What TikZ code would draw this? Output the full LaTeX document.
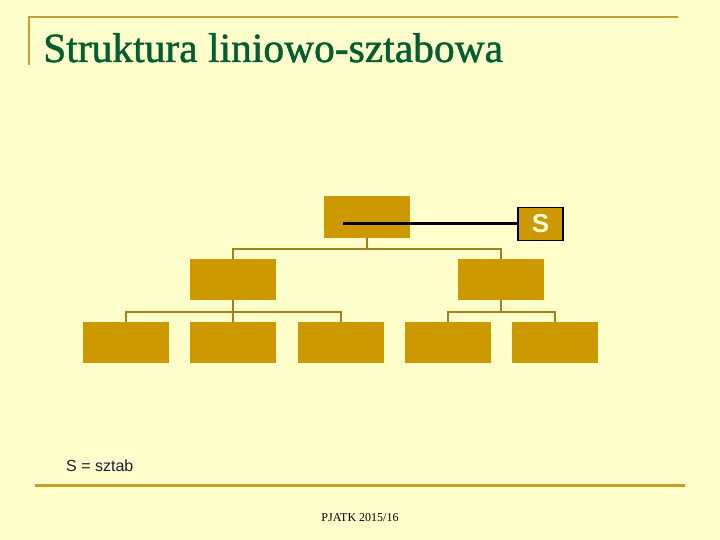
\documentclass[tikz,border=0pt]{standalone}
\usepackage{fontspec}
\setmainfont{Liberation Serif}
\newfontfamily\titlef[FakeBold=1.2]{Liberation Serif}
\newfontfamily\sansf{Liberation Sans}
\definecolor{bg}{RGB}{255,255,204}
\definecolor{gold}{RGB}{204,153,0}
\definecolor{rule}{RGB}{196,160,40}
\definecolor{conncol}{RGB}{165,128,30}
\definecolor{titlegreen}{RGB}{0,95,50}
\definecolor{navy}{RGB}{20,30,60}
\definecolor{slabel}{RGB}{255,250,220}
\begin{document}
\begin{tikzpicture}[x=1pt,y=-1pt,
  orgbox/.style={fill=gold, draw=none, minimum width=86pt, minimum height=41pt, inner sep=0pt, outer sep=0pt},
  conn/.style={draw=conncol, line width=2.2pt},
  rulel/.style={draw=rule, line width=2.2pt}]
\fill[bg] (0,0) rectangle (720,540);
\useasboundingbox (0,0) rectangle (720,540);
% decorative rules
\draw[rulel] (29,65) -- (29,17) -- (678,17);
\draw[rule, line width=3pt] (35,485) -- (685,485);
% title
\node[anchor=base west, inner sep=0pt, text=titlegreen, font=\titlef\fontsize{41.5}{48}\selectfont] (title) at (43,62) {Struktura liniowo-sztabowa};
% boxes
\node[orgbox, minimum height=42pt] (top) at (367,217) {};
\node[fill=gold, draw=black, line width=1.5pt, minimum width=45pt, minimum height=33pt, inner sep=0pt, text=slabel, font=\sansf\bfseries\fontsize{26}{28}\selectfont] (S) at (540.5,224) {S};
\node[orgbox] (L) at (233,279.5) {};
\node[orgbox] (R) at (501,279.5) {};
\node[orgbox] (a) at (126,342.5) {};
\node[orgbox] (b) at (233,342.5) {};
\node[orgbox] (c) at (341,342.5) {};
\node[orgbox] (d) at (448,342.5) {};
\node[orgbox] (e) at (555,342.5) {};
% connectors
\coordinate (j1) at (367,249);
\coordinate (j3) at (501,312);
\coordinate (sl) at (343,224);
\draw[conn] (L.north) -- ++(0,-10) -| (R.north);
\draw[conn] (top.south) -- (j1);
\draw[conn] (a.north) -- ++(0,-10) -| (c.north);
\draw[conn] (b.north) -- (L.south);
\draw[conn] (d.north) -- ++(0,-10) -| (e.north);
\draw[conn] (R.south) -- (j3);
\draw[black, line width=3pt] (sl) -- (S.west);
% texts
\node[anchor=base west, inner sep=0pt, text=navy, font=\sansf\fontsize{16}{19}\selectfont] (legend) at (66,471) {S = sztab};
\node[anchor=base, inner sep=0pt, text=black, font=\fontsize{12}{14}\selectfont] (footer) at (360,521) {PJATK 2015/16};
\end{tikzpicture}
\end{document}
